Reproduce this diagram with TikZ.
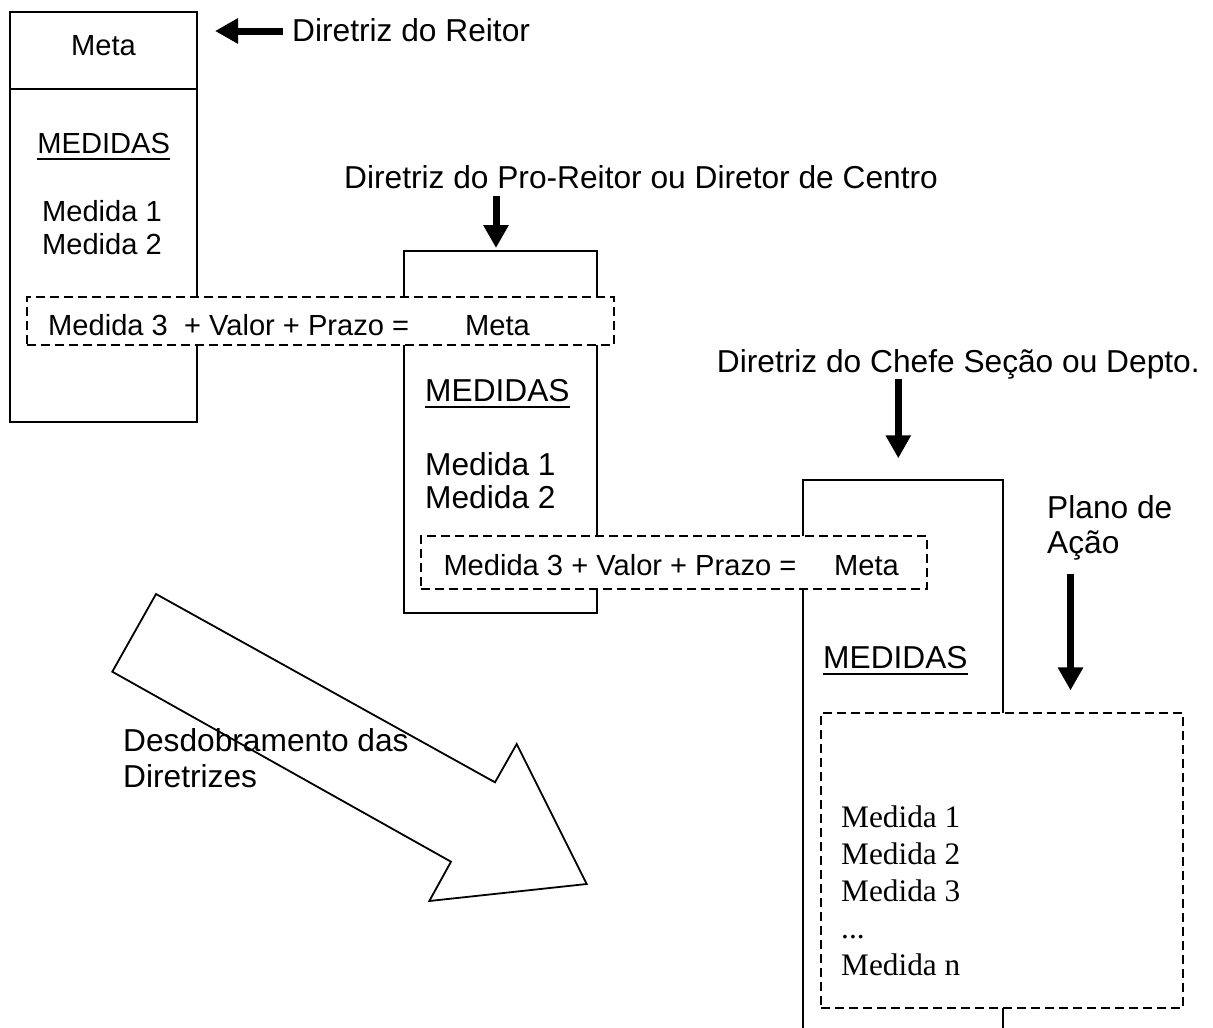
\documentclass[tikz,border=0pt]{standalone}
\usepackage{fontspec}
\setmainfont{Liberation Sans}
\newfontfamily\listface{Liberation Serif}
\usetikzlibrary{arrows.meta}

\tikzset{
  x=1pt, y=-1pt,
  frame/.style={draw, line width=1.8pt, inner sep=0pt, outer sep=0pt, anchor=north west},
  dashbox/.style={draw, fill=white, line width=1.8pt, dash pattern=on 9pt off 5pt,
                  inner sep=0pt, outer sep=0pt, anchor=north west},
  big/.style={font=\fontsize{31.7}{36}\selectfont, inner sep=0pt, anchor=base west},
  small/.style={font=\fontsize{29.1}{33}\selectfont, inner sep=0pt, anchor=base west},
  listtext/.style={font=\listface\fontsize{31.3}{36}\selectfont, inner sep=0pt, anchor=base west},
  pointer/.style={line width=7pt, -{Triangle[length=23pt,width=24pt]}},
  rule/.style={line width=2.2pt},
  bigarrow/.style={draw, fill=white, line width=1.8pt, line join=miter},
}

\begin{document}
\begin{tikzpicture}
\useasboundingbox (0,0) rectangle (1213,1028);
\clip (0,0) rectangle (1213,1028);

% solid frames of the three levels
\node[frame, minimum width=187, minimum height=410] (box1) at (10,12) {};
\coordinate (split) at (0,89);
\draw[line width=1.8pt] (box1.west |- split) -- (box1.east |- split);
\node[frame, minimum width=193, minimum height=362] (box2) at (404,251) {};

% dashed strip joining level 1 and level 2
\node[dashbox, minimum width=587, minimum height=48] (dash1) at (27,297) {};

\node[frame, minimum width=200, minimum height=600] (box3) at (803,480) {};

% dashed strip joining level 2 and level 3
\node[dashbox, minimum width=506, minimum height=53] (dash2) at (421,536) {};

% action plan block
\node[dashbox, minimum width=362, minimum height=295] (dash3) at (821,713) {};

% level 1 contents
\node[small, anchor=base] (meta1) at (103.5,55) {Meta};
\node[small, anchor=base] (med1) at (103.7,153) {MEDIDAS};
\draw[rule] ([yshift=-6pt]med1.base west) -- ([yshift=-6pt]med1.base east);
\node[small, anchor=base] (m11) at (102,221.5) {Medida 1};
\node[small, anchor=base] (m12) at (102,254) {Medida 2};
\node[small] (eq1) at (48,335.7) {Medida 3\ \ + Valor + Prazo =};
\node[small] (goal1) at (465,335.7) {Meta};

% level 2 contents
\node[big] (med2) at (425,401) {MEDIDAS};
\draw[rule] ([yshift=-6pt]med2.base west) -- ([yshift=-6pt]med2.base east);
\node[big] (m21) at (425,475) {Medida 1};
\node[big] (m22) at (425,508) {Medida 2};
\node[small] (eq2) at (443.3,575) {Medida 3 + Valor + Prazo =};
\node[small] (goal2) at (834,575) {Meta};

% level 3 contents
\node[big] (med3) at (823,668) {MEDIDAS};
\draw[rule] ([yshift=-6pt]med3.base west) -- ([yshift=-6pt]med3.base east);
\node[listtext] (p1) at (841,827) {Medida 1};
\node[listtext] (p2) at (841,864) {Medida 2};
\node[listtext] (p3) at (841,901) {Medida 3};
\node[listtext] (p4) at (841,938) {...};
\node[listtext] (p5) at (841,975) {Medida n};

% directive labels and their pointers
\node[big] (h1) at (292,41) {Diretriz do Reitor};
\coordinate (a1) at (283,31);
\draw[pointer, shorten >=18pt] (a1) -- (a1 -| box1.east);

\node[big, anchor=base] (h2) at (641,188) {Diretriz do Pro-Reitor ou Diretor de Centro};
\coordinate (a2) at (496,196);
\draw[pointer, shorten >=3pt] (a2) -- (a2 |- box2.north);

\node[big] (h3) at (716.7,372) {Diretriz do Chefe Seção ou Depto.};
\coordinate (a3) at (898.3,379);
\draw[pointer, shorten >=21.7pt] (a3) -- (a3 |- box3.north);

\node[big] (h4) at (1047,518) {Plano de};
\node[big] (h4b) at (1047,553) {Ação};
\coordinate (a4) at (1070.5,574);
\draw[pointer, shorten >=22.6pt] (a4) -- (a4 |- dash3.north);

% unfolding arrow
\draw[bigarrow] (156,594) -- (495,782.3) -- (516.7,744) -- (586.7,884)
  -- (429.3,901) -- (451,861.7) -- (112.3,671.7) -- cycle;
\node[big] (u1) at (123,751) {Desdobramento das};
\node[big] (u2) at (123,787) {Diretrizes};
\end{tikzpicture}
\end{document}
